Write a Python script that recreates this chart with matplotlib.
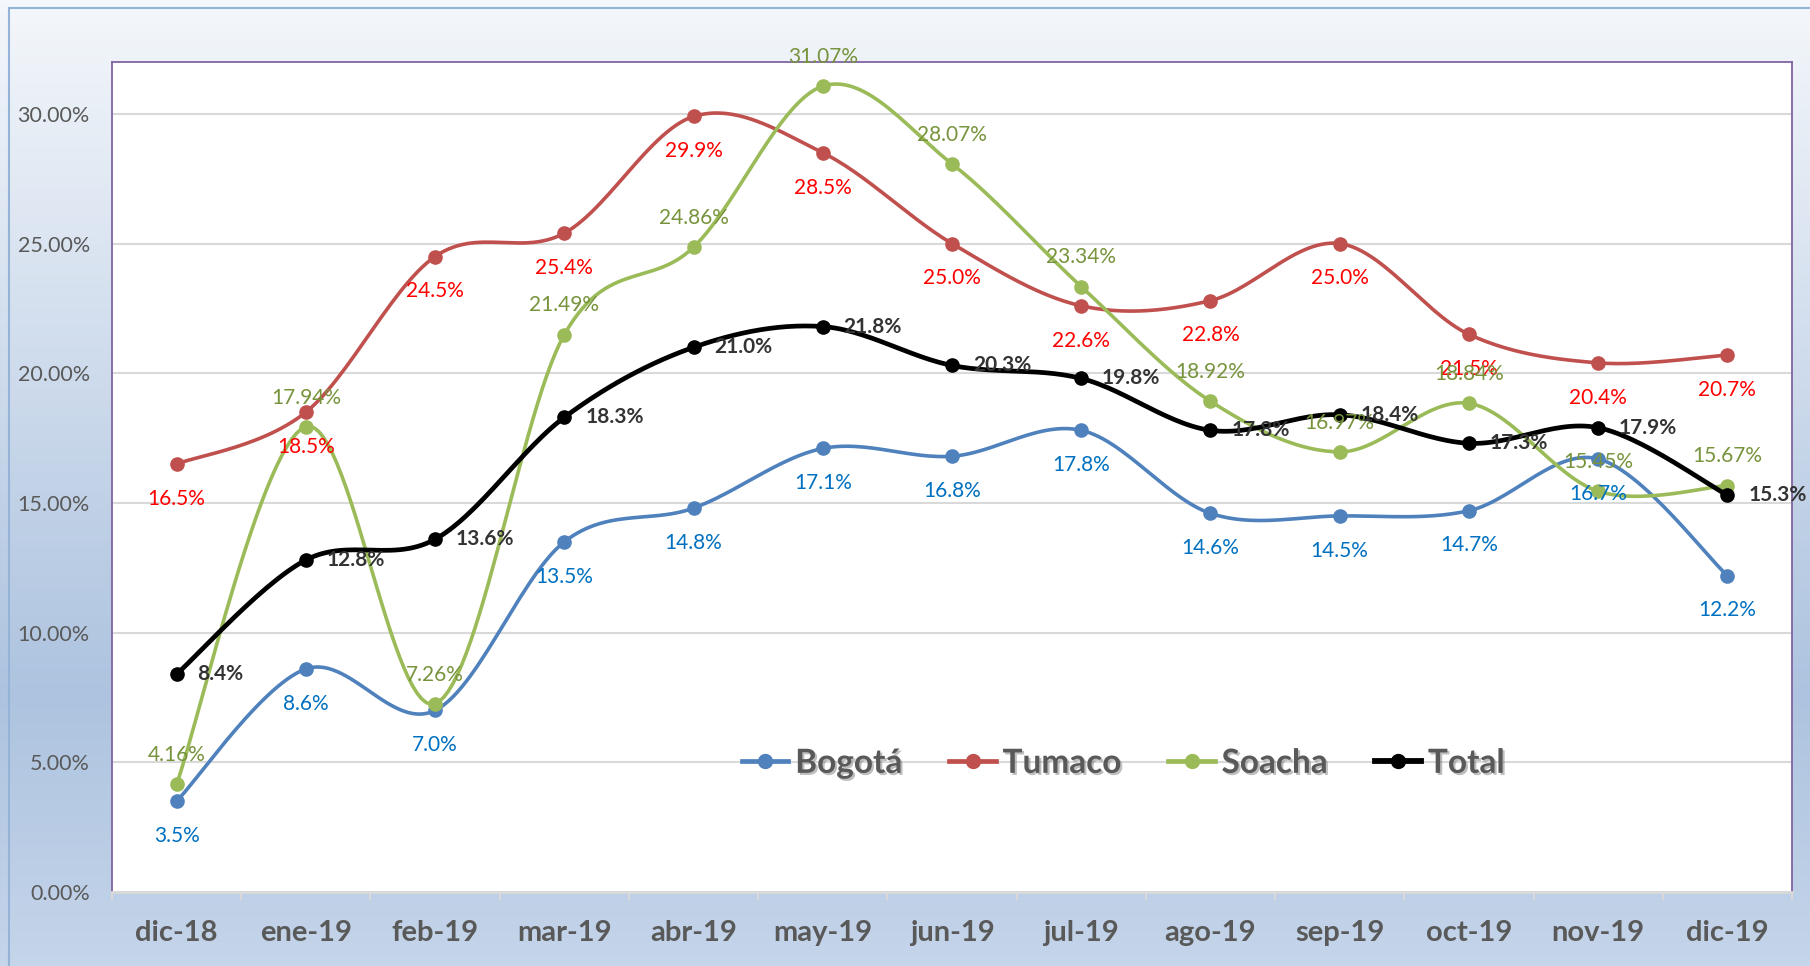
import numpy as np
import matplotlib
matplotlib.use("Agg")
import matplotlib.pyplot as plt
import matplotlib.patheffects as pe
from matplotlib.colors import LinearSegmentedColormap
from matplotlib.patches import Rectangle
from matplotlib.lines import Line2D
from matplotlib.ticker import PercentFormatter, FixedLocator, NullFormatter

plt.rcParams['font.family'] = ['Lato', 'DejaVu Sans']

# data (values in %)
meses = ["dic-18", "ene-19", "feb-19", "mar-19", "abr-19", "may-19", "jun-19",
         "jul-19", "ago-19", "sep-19", "oct-19", "nov-19", "dic-19"]
bogota = [3.5, 8.6, 7.0, 13.5, 14.8, 17.1, 16.8, 17.8, 14.6, 14.5, 14.7, 16.7, 12.2]
tumaco = [16.5, 18.5, 24.5, 25.4, 29.9, 28.5, 25.0, 22.6, 22.8, 25.0, 21.5, 20.4, 20.7]
soacha = [4.16, 17.94, 7.26, 21.49, 24.86, 31.07, 28.07, 23.34, 18.92, 16.97, 18.84, 15.45, 15.67]
total = [8.4, 12.8, 13.6, 18.3, 21.0, 21.8, 20.3, 19.8, 17.8, 18.4, 17.3, 17.9, 15.3]


def smooth(x, y, n=30):
    # catmull-rom style curve like excel "smoothed line"
    x = np.asarray(x, float)
    y = np.asarray(y, float)
    px = np.concatenate([[x[0]], x, [x[-1]]])
    py = np.concatenate([[y[0]], y, [y[-1]]])
    t = np.linspace(0, 1, n)
    xs, ys = [], []
    for i in range(1, len(px) - 2):
        p0 = np.array([px[i], py[i]])
        p3 = np.array([px[i + 1], py[i + 1]])
        c1 = p0 + (p3 - np.array([px[i - 1], py[i - 1]])) / 6
        c2 = p3 - (np.array([px[i + 2], py[i + 2]]) - p0) / 6
        b = ((1 - t) ** 3)[:, None] * p0 + (3 * (1 - t) ** 2 * t)[:, None] * c1 \
            + (3 * (1 - t) * t ** 2)[:, None] * c2 + (t ** 3)[:, None] * p3
        xs.append(b[:, 0])
        ys.append(b[:, 1])
    return np.concatenate(xs), np.concatenate(ys)


fig = plt.figure(figsize=(18.1, 9.66), dpi=100)

# background gradient
bg = fig.add_axes([0, 0, 1, 1], zorder=-10)
cmap = LinearSegmentedColormap.from_list(
    "bg", [(0, "#f4f7fb"), (0.72, "#adc3df"), (1.0, "#c5d5ea")])
grad = np.linspace(0, 1, 256)[:, None]
bg.imshow(grad, aspect="auto", cmap=cmap, extent=[0, 1, 0, 1], origin="upper")
bg.set_xlim(0, 1)
bg.set_ylim(0, 1)
bg.axis("off")
bg.add_patch(Rectangle((9 / 1810, -0.01), 1.0, 1 - 8 / 966 + 0.01,
                       fill=False, edgecolor="#95b3d7", lw=1.5,
                       transform=bg.transAxes))

ax = fig.add_axes([112 / 1810, 74 / 966, 1680 / 1810, 830 / 966])
ax.set_facecolor("white")

x = np.arange(len(meses))
series = [
    ("Bogotá", bogota, "#4f81bd", 2.6, "#0070c0", "below", "{:.1f}%"),
    ("Tumaco", tumaco, "#c0504d", 2.6, "#ff0000", "below", "{:.1f}%"),
    ("Soacha", soacha, "#9bbb59", 2.6, "#77933c", "above", "{:.2f}%"),
    ("Total", total, "#000000", 3.4, "#333333", "right", "{:.1f}%"),
]

handles = []
for i, (name, vals, col, lw, lcol, pos, fmt) in enumerate(series):
    sx, sy = smooth(x, vals)
    ax.plot(sx, sy, color=col, lw=lw, solid_capstyle="round", zorder=3 + i)
    ax.plot(x, vals, "o", color=col, ms=9.5, zorder=3 + i)
    handles.append(Line2D([], [], color=col, lw=lw + 0.8, marker="o", ms=10))
    for xi, v in zip(x, vals):
        txt = fmt.format(v)
        if pos == "below":
            ax.annotate(txt, (xi, v), xytext=(0, -25), textcoords="offset points",
                        ha="center", va="center", fontsize=15, color=lcol, zorder=10)
        elif pos == "above":
            ax.annotate(txt, (xi, v), xytext=(0, 21), textcoords="offset points",
                        ha="center", va="center", fontsize=15, color=lcol,
                        zorder=10)
        else:
            ax.annotate(txt, (xi, v), xytext=(15, 0), textcoords="offset points",
                        ha="left", va="center", fontsize=15, color=lcol,
                        fontweight="bold", zorder=10)

ax.set_xlim(-0.5, len(meses) - 0.5)
ax.set_ylim(0, 32)
ax.yaxis.set_major_locator(FixedLocator([0, 5, 10, 15, 20, 25, 30]))
ax.yaxis.set_major_formatter(PercentFormatter(xmax=100, decimals=2))
ax.grid(axis="y", color="#d9d9d9", lw=1.5, zorder=0)
ax.set_axisbelow(True)
ax.tick_params(axis="y", length=0, pad=16, labelsize=15.5, labelcolor="#595959")

ax.set_xticks(x)
ax.set_xticklabels(meses, fontsize=21, fontweight="bold", color="#595959")
ax.tick_params(axis="x", which="major", length=0, pad=20)
ax.set_xticks(np.arange(-0.5, len(meses)), minor=True)
ax.xaxis.set_minor_formatter(NullFormatter())
ax.tick_params(axis="x", which="minor", length=6, width=1.5, color="#d9d9d9",
               direction="out")

for s in ["top", "left", "right"]:
    ax.spines[s].set_color("#8064a2")
    ax.spines[s].set_linewidth(1.3)
ax.spines["bottom"].set_color("#d9d9d9")
ax.spines["bottom"].set_linewidth(2)

leg = ax.legend(handles, [s[0] for s in series], loc="center",
                bbox_to_anchor=(0.602, 0.155), ncol=4, frameon=False,
                handlelength=1.4, handletextpad=0.2, columnspacing=1.4,
                prop={"size": 24, "weight": "bold"})
for t in leg.get_texts():
    t.set_color("#595959")
    t.set_path_effects([pe.withSimplePatchShadow(offset=(1.5, -1.5),
                                                 shadow_rgbFace="#7f7f7f", alpha=0.5)])

fig.savefig("out.png", dpi=100)
